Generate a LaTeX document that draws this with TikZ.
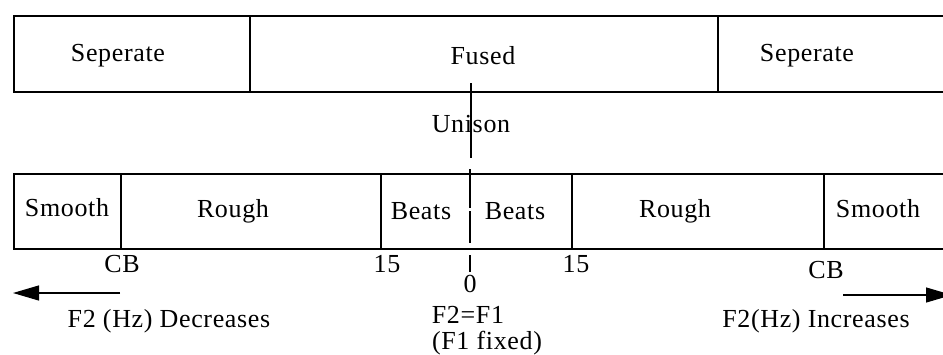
\documentclass[tikz,border=0pt]{standalone}
\usepackage{fontspec}
\setmainfont[LetterSpace=2.5]{Liberation Serif}
\usetikzlibrary{arrows.meta}
\begin{document}
\begin{tikzpicture}[x=1pt,y=-1pt,
  lbl/.style={inner sep=0pt,anchor=base,font=\fontsize{26}{30}\selectfont},
  frame/.style={line width=1.6pt},
  divider/.style={line width=1.6pt},
  axisarrow/.style={line width=1.2pt,-{Triangle[length=26pt,width=15pt]}}]
\useasboundingbox (0,0) rectangle (943,354);
% top bar
\draw[frame] (945,16) -- (14,16) -- (14,92) -- (945,92);
\draw[divider] (250,16) -- (250,92);
\draw[divider] (718,16) -- (718,92);
\node[lbl] (sepL) at (118,61) {Seperate};
\node[lbl] (fused) at (483,64) {Fused};
\node[lbl] (sepR) at (807,61) {Seperate};
% unison line
\coordinate (uTop) at (471,83);
\coordinate (uBot) at (471,158);
\draw[line width=1.1pt] (uTop) -- (uBot);
\node[lbl] (unison) at (471,132) {Unison};
% bottom bar
\draw[frame] (945,174) -- (14,174) -- (14,249) -- (945,249);
\draw[divider] (121,174) -- (121,249);
\draw[divider] (381,174) -- (381,249);
\draw[divider] (572,174) -- (572,249);
\draw[divider] (824,174) -- (824,249);
\node[lbl] (smL) at (67,216) {Smooth};
\node[lbl] (roL) at (233,217) {Rough};
\node[lbl] (beL) at (421,219) {Beats};
\node[lbl] (beR) at (515,219) {Beats};
\node[lbl] (roR) at (675,217) {Rough};
\node[lbl] (smR) at (878,217) {Smooth};
% unison dashed line
\coordinate (dTop) at (470,169);
\coordinate (dBot) at (470,272);
\draw[line width=1.1pt,dash pattern=on 39pt off 3pt on 32pt off 12pt on 17pt] (dTop) -- (dBot);
% scale labels
\node[lbl] (cbL) at (122,272) {CB};
\node[lbl] (fifL) at (387,272) {15};
\node[lbl] (zero) at (470,292) {0};
\node[lbl] (fifR) at (576,272) {15};
\node[lbl] (cbR) at (826,278) {CB};
% arrows
\coordinate (aLs) at (120,293);
\coordinate (aLe) at (13,293);
\draw[axisarrow] (aLs) -- (aLe);
\coordinate (aRs) at (843,295);
\coordinate (aRe) at (952,295);
\draw[axisarrow] (aRs) -- (aRe);
\node[lbl] (dec) at (169,327) {F2 (Hz) Decreases};
\node[lbl] (eq) at (468,323) {F2=F1};
\node[lbl] (fix) at (487,349) {(F1 fixed)};
\node[lbl] (inc) at (816,327) {F2(Hz) Increases};
\end{tikzpicture}
\end{document}
